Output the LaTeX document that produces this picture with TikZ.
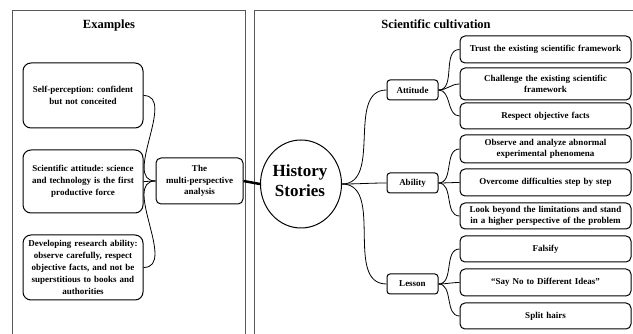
\documentclass[tikz,border=0pt]{standalone}
\usepackage{fontspec}
\setmainfont{Liberation Serif}
\usetikzlibrary{shapes.geometric}
\frenchspacing
\begin{document}
\begin{tikzpicture}[x=1pt,y=-1pt,
  frame/.style={draw=black!65,line width=0.9pt},
  exbox/.style={draw,line width=1pt,rounded corners=8pt,minimum width=120pt,inner sep=0pt,align=center,text width=116pt,font=\bfseries\fontsize{9}{11.8}\selectfont},
  midbox/.style={draw,line width=1pt,rounded corners=5pt,minimum width=87pt,minimum height=46pt,inner sep=0pt,align=center,text width=84pt,font=\bfseries\fontsize{9}{11.8}\selectfont},
  catbox/.style={draw,line width=1pt,rounded corners=3pt,minimum width=51pt,minimum height=20pt,inner sep=0pt,align=center,font=\bfseries\fontsize{9}{11}\selectfont},
  leafbox/.style={draw,line width=1pt,rounded corners=5pt,minimum width=171pt,inner sep=0pt,align=center,text width=168pt,font=\bfseries\fontsize{9}{11.5}\selectfont},
  link/.style={line width=0.8pt,out=0,in=180},
  title/.style={font=\bfseries\fontsize{12.5}{14}\selectfont}]
\useasboundingbox (0,0) rectangle (633,334);
% frames
\draw[frame] (12,336) -- (12,10) -- (245,10) -- (245,336);
\draw[frame] (254,336) -- (254,10) -- (636,10);
\node[title] (tex) at (109,25) {Examples};
\node[title] (tsc) at (436,24) {Scientific cultivation};
% examples
\node[exbox,minimum height=65pt] (l1) at (83,95.5) {Self-perception: confident\\but not conceited};
\node[exbox,minimum height=63pt] (l2) at (83,181.5) {Scientific attitude: science\\and technology is the first\\productive force};
\node[exbox,minimum height=65pt] (l3) at (83,267.5) {Developing research ability:\\observe carefully, respect\\objective facts, and not be\\superstitious to books and\\authorities};
\node[midbox] (m) at (199.5,181) {The\\multi-perspective\\analysis};
\draw[link] (l1.east) to (m.west);
\draw[link] (l2.east) to (m.west);
\draw[link] (l3.east) to (m.west);
% center
\node[draw,ellipse,line width=1pt,minimum width=81pt,minimum height=88pt,inner sep=0pt] (c) at (301,184) {};
\node[align=center,inner sep=0pt,font=\bfseries\fontsize{17}{20}\selectfont] (ct) at (300,181) {History\\Stories};
\draw[line width=2.5pt] (m.east) -- (c.west);
% categories
\node[catbox] (a) at (412.5,90) {Attitude};
\node[catbox] (b) at (412.5,183) {Ability};
\node[catbox] (s) at (412.5,284) {Lesson};
\draw[link] (c.east) to (a.west);
\draw[link] (c.east) to (b.west);
\draw[link] (c.east) to (s.west);
% leaves
\node[leafbox,minimum height=27pt] (t1) at (545.5,49.5) {Trust the existing scientific framework};
\node[leafbox,minimum height=32pt] (t2) at (545.5,84) {Challenge the existing scientific\\framework};
\node[leafbox,minimum height=26pt] (t3) at (545.5,116) {Respect objective facts};
\node[leafbox,minimum height=28pt] (t4) at (545.5,149) {Observe and analyze abnormal\\experimental phenomena};
\node[leafbox,minimum height=27pt] (t5) at (545.5,182.5) {Overcome difficulties step by step};
\node[leafbox,minimum height=26pt] (t6) at (545.5,216) {Look beyond the limitations and stand\\in a higher perspective of the problem};
\node[leafbox,minimum height=26pt] (t7) at (545.5,249) {Falsify};
\node[leafbox,minimum height=27pt] (t8) at (545.5,282.5) {“Say No to Different Ideas”};
\node[leafbox,minimum height=26pt] (t9) at (545.5,316) {Split hairs};
\foreach \t in {t1,t2,t3} \draw[link] (a.east) to (\t.west);
\foreach \t in {t4,t5,t6} \draw[link] (b.east) to (\t.west);
\foreach \t in {t7,t8,t9} \draw[link] (s.east) to (\t.west);
\end{tikzpicture}
\end{document}
